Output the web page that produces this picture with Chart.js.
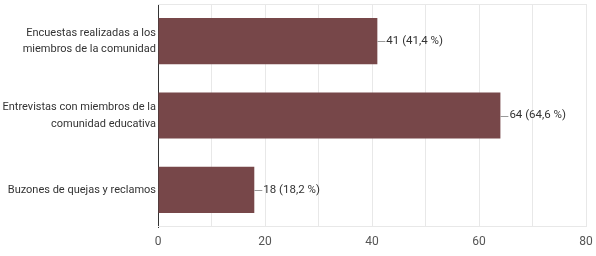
<!DOCTYPE html>
<html><head><meta charset="utf-8">
<script src="https://cdn.jsdelivr.net/npm/chart.js@4/dist/chart.umd.min.js"></script>
<style>html,body{margin:0;padding:0;background:#fff}#wrap{width:596px;height:256px}</style>
</head><body><div id="wrap"><canvas id="c" width="596" height="256"></canvas></div>
<script>
const categories = [
  ["Encuestas realizadas a los", "miembros de la comunidad"],
  ["Entrevistas con miembros de la", "comunidad educativa"],
  ["Buzones de quejas y reclamos"]
];
const values = [41, 64, 18];
const percentLabels = ["41,4 %", "64,6 %", "18,2 %"];
const xTicks = [0, 20, 40, 60, 80];

const FONT = "Roboto, 'Liberation Sans', Arial, sans-serif";

const labelPlugin = {
  id: 'barLabels',
  afterDatasetsDraw(chart) {
    const ctx = chart.ctx;
    const meta = chart.getDatasetMeta(0);
    ctx.save();
    ctx.font = "11.5px " + FONT;
    ctx.textBaseline = 'middle';
    ctx.textAlign = 'left';
    meta.data.forEach((bar, i) => {
      const x = bar.x, y = bar.y;
      ctx.strokeStyle = '#9a9a9a';
      ctx.lineWidth = 1;
      ctx.beginPath();
      ctx.moveTo(x, Math.round(y) + 0.5);
      ctx.lineTo(x + 8, Math.round(y) + 0.5);
      ctx.stroke();
      ctx.fillStyle = '#333';
      ctx.fillText(values[i] + " (" + percentLabels[i] + ")", x + 9, y);
    });
    ctx.restore();
  }
};

new Chart(document.getElementById('c'), {
  type: 'bar',
  data: {
    labels: categories,
    datasets: [{
      data: values,
      backgroundColor: '#774749',
      borderWidth: 0,
      barPercentage: 0.62,
      categoryPercentage: 1.0
    }]
  },
  options: {
    indexAxis: 'y',
    responsive: false,
    animation: false,
    devicePixelRatio: 1,
    layout: { padding: { top: 4, right: 10, left: 0, bottom: 0 } },
    plugins: { legend: { display: false }, tooltip: { enabled: false } },
    scales: {
      x: {
        min: 0, max: 80,
        afterBuildTicks(axis) {
          const t = [];
          for (let v = 0; v <= 80; v += 10) t.push({ value: v });
          axis.ticks = t;
        },
        afterFit(axis) { axis.height = 29; axis.paddingLeft = 0; axis.paddingRight = 0; },
        grid: { color: '#e8e8e8', drawTicks: false },
        border: { display: false },
        ticks: {
          padding: 8,
          color: '#555',
          font: { size: 12, family: FONT },
          callback: (v) => xTicks.includes(v) ? String(v) : ''
        }
      },
      y: {
        afterFit(axis) { axis.width = 158; axis.paddingTop = 0; axis.paddingBottom = 0; },
        grid: { display: false, drawTicks: false },
        border: { display: true, color: '#333', width: 1 },
        ticks: {
          padding: 2,
          color: '#333',
          font: { size: 11, family: FONT, lineHeight: 1.5 }
        }
      }
    }
  },
  plugins: [labelPlugin, {
    id: 'frame',
    beforeDatasetsDraw(chart) {
      const { ctx, chartArea: a } = chart;
      ctx.save();
      ctx.strokeStyle = '#e8e8e8';
      ctx.lineWidth = 1;
      ctx.beginPath();
      ctx.moveTo(a.left, a.top + 0.5); ctx.lineTo(a.right, a.top + 0.5);
      ctx.moveTo(a.left, a.bottom - 0.5); ctx.lineTo(a.right, a.bottom - 0.5);
      ctx.stroke();
      ctx.restore();
    }
  }]
});
</script></body></html>
